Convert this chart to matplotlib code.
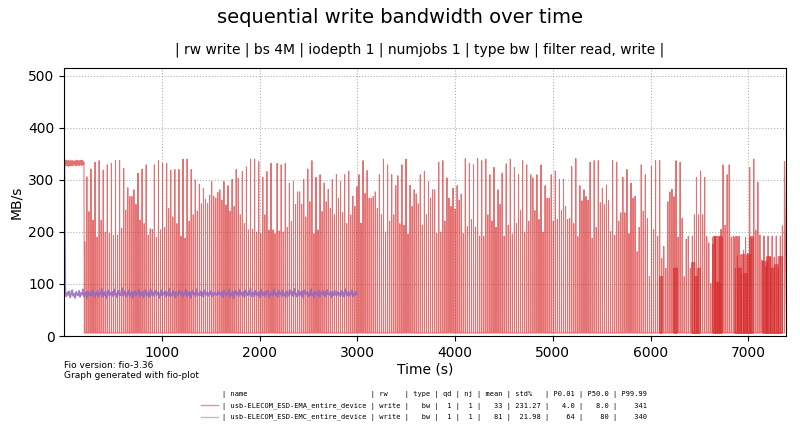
import numpy as np
import matplotlib
matplotlib.use("Agg")
import matplotlib.pyplot as plt
from matplotlib.lines import Line2D

# ---------------- data ----------------
TITLE = "sequential write bandwidth over time"
SUBTITLE = "| rw write | bs 4M | iodepth 1 | numjobs 1 | type bw | filter read, write |"

X_END = 7390          # seconds, end of run
RED_PLATEAU_END = 200 # red device writes steadily until here
RED_PLATEAU = [333, 328, 337, 330, 335, 327, 334, 338, 329, 332, 336, 328, 335, 330, 337, 326, 333, 338, 329, 334,
               331, 336, 327, 335, 330, 338, 328, 333, 336, 329, 334, 327, 337, 331, 335, 328, 333, 336, 330, 332,
               329, 335, 331, 337, 328, 334, 330, 336, 327, 333, 338, 329, 335, 331, 337, 328, 334, 330, 336, 332,
               328, 334, 337, 330, 335, 329, 333, 338, 331, 336, 327, 334, 330, 337, 329, 335, 332, 336, 330, 333]
RED_BASE = 6          # idle level between bursts

# burst peaks of the EMA device (MB/s), left to right
RED_PEAKS = [
    181, 306, 239, 321, 223, 334, 190, 337, 223, 319, 200, 329, 197, 332, 193, 337, 194, 337, 207, 322,
    242, 285, 268, 268, 281, 253, 313, 223, 321, 216, 329, 194, 206, 205, 329, 189, 337, 204, 332, 209,
    332, 245, 319, 229,
    320, 216, 320, 192, 340, 188, 340, 221, 320, 233, 300, 240, 292, 254, 284, 263, 255, 271, 297, 269,
    265, 276, 281, 261, 297, 252, 289, 240, 301, 249, 320, 303, 233, 316, 216, 325, 204, 340, 205, 340,
    200, 335, 197, 305, 233, 316, 204, 332, 204,
    197, 332, 202, 329, 200, 332, 209, 294, 220, 297, 253, 277, 277, 253, 301, 229, 321, 258, 337, 197,
    305, 204, 310, 239, 294, 258, 282, 245, 301, 233, 310, 265, 297, 237, 310, 216, 317, 233, 269, 249,
    287, 310, 217, 337, 274, 318, 265, 265,
    268, 277, 245, 310, 233, 340, 200, 329, 221, 310, 233, 289, 308, 216, 329, 213, 340, 196, 290, 249,
    281, 273, 254, 310, 213, 317, 233, 297, 265, 281, 281, 197, 334, 200, 337, 221, 304, 265, 249, 284,
    244, 289, 261, 273, 197, 341, 210, 332,
    224, 329, 209, 341, 192, 337, 192, 340, 233, 310, 221, 324, 209, 281, 253, 313, 192, 331, 213, 340,
    196, 324, 216, 310, 241, 337, 200, 329, 221, 310, 304, 241, 310, 224, 329, 200, 289, 265, 265, 310,
    221, 317, 224, 301, 241, 301, 249, 224,
    226, 326, 216, 341, 191, 289, 260, 281, 268, 261, 334, 188, 337, 209, 337, 256, 284, 253, 290, 260,
    201, 337, 194, 334, 221, 237, 305, 237, 320, 197, 294, 265, 269, 162, 209, 329, 240, 310, 226, 114,
    326, 205, 337, 192, 337, 149, 172, 130, 258,
    277, 282, 268, 337, 190, 334, 226, 114, 186, 192, 130, 192, 233, 305, 233, 317, 233, 305, 191, 179,
    101, 176, 192, 104, 192, 205, 329, 213, 310, 329, 190, 192, 130, 154, 192, 120, 165, 190, 159, 324,
    188, 340, 204, 296, 194, 146, 192, 134, 192, 151, 192, 151, 192, 130, 192, 212, 335,
]

# late periods where the EMA device toggles rapidly (dark blocks)
DENSE_START = [6097, 6240, 6425, 6640, 6865, 7151]
DENSE_END = [6118, 6271, 6507, 6732, 7049, 7346]
DENSE_LEVELS = [
    [114],
    [130],
    [141, 114, 130],
    [190, 190, 102, 190],
    [190, 130, 156, 120, 156, 190],
    [143, 152, 130, 136, 152],
]

# EMC device: steady ~80 MB/s until ~3000 s
PURPLE_END = 2996
PURPLE = [
    340, 80, 76, 84, 79, 86, 74, 82, 88, 77, 81, 73, 85, 80, 78, 87, 75, 83, 79, 90,
    76, 82, 84, 72, 86, 80, 78, 85, 77, 89, 81, 74, 83, 79, 87, 76, 82, 80, 91, 75,
    84, 78, 86, 73, 81, 88, 77, 83, 80, 85, 76, 90, 79, 82, 74, 87, 81, 78, 84, 92,
    77, 80, 86, 75, 83, 79, 88, 76, 82, 85, 73, 81, 87, 78, 84, 80, 89, 76, 83, 79,
    86, 74, 82, 88, 77, 81, 85, 75, 90, 80, 78, 84, 76, 87, 82, 79, 85, 73, 81, 88,
    77, 83, 80, 86, 75, 84, 79, 91, 76, 82, 78, 87, 80, 74, 85, 81, 77, 88, 83, 79,
    86, 75, 82, 80, 89, 76, 84, 78, 85, 73, 81, 87, 79, 83, 76, 90, 80, 82, 77, 86,
    78, 84, 75, 88, 81, 79, 85, 77, 83, 80, 87, 76, 82, 79, 84, 81, 78, 86, 80, 83,
    79, 85, 74, 88, 81, 77, 84, 80, 90, 75, 83, 78, 86, 72, 82, 87, 79, 84, 76, 89,
    80, 83, 77, 85, 74, 88, 81, 78, 86, 79, 92, 76, 82, 84, 75, 87, 80, 83, 77, 85,
    73, 89, 81, 78, 84, 76, 86, 80, 88, 74, 82, 79, 85, 77, 90, 81, 78, 83, 75, 87,
    80, 84, 76, 88, 79, 82, 74, 86, 81, 77, 89, 83, 78, 85, 76, 91, 80, 82, 75, 87,
    79, 84, 77, 86, 73, 88, 81, 80, 85, 76, 83, 78, 90, 79, 82, 74, 86, 80, 84, 77,
    88, 75, 83, 81, 87, 78, 85, 76, 89, 80, 82, 79, 86, 74, 84, 78, 88, 81, 77, 85,
    80, 83, 76, 87, 79, 84, 75, 90, 81, 78, 86, 77, 83, 80, 88, 76, 82, 79, 85, 81,
]

LEGEND_HEADER = "| name                             | rw    | type | qd | nj | mean | std%   | P0.01 | P50.0 | P99.99"
LEGEND_ROWS = [
    "| usb-ELECOM_ESD-EMA_entire_device | write |   bw |  1 |  1 |   33 | 231.27 |   4.0 |   8.0 |    341",
    "| usb-ELECOM_ESD-EMC_entire_device | write |   bw |  1 |  1 |   81 |  21.98 |    64 |    80 |    340",
]
COLORS = ["#d62728", "#9467bd"]

# ---------------- build series ----------------
# red: plateau, then a short burst per slot (base -> peak -> base)
t_plat = np.linspace(0, RED_PLATEAU_END, len(RED_PLATEAU))
slots = np.linspace(RED_PLATEAU_END + 8, X_END, len(RED_PEAKS) + 1)
dt = slots[1] - slots[0]
rx = list(t_plat) + [RED_PLATEAU_END + 4]
ry = list(RED_PLATEAU) + [RED_BASE]
for i, p in enumerate(RED_PEAKS):
    s = slots[i]
    rx += [s, s + 0.05 * dt, s + 0.10 * dt]
    ry += [RED_BASE, p, RED_BASE]
rx.append(X_END)
ry.append(RED_PEAKS[-1])

# dense toggling blocks
dense_segments = []
for a, b, levels in zip(DENSE_START, DENSE_END, DENSE_LEVELS):
    edges = np.linspace(a, b, len(levels) + 1)
    for k, lev in enumerate(levels):
        ts = np.arange(edges[k], edges[k + 1], 2.0)
        xs, ys = [], []
        for t in ts:
            xs += [t, t + 1.0]
            ys += [RED_BASE, lev]
        dense_segments.append((xs, ys))

px = np.linspace(0, PURPLE_END, len(PURPLE))

# ---------------- figure ----------------
fig = plt.figure(figsize=(8, 4.44), dpi=100)
ax = fig.add_axes([0.0805, 0.2432, 0.9025, 0.6036])

ax.plot(rx, ry, color=COLORS[0], lw=0.75, alpha=0.65)
for xs, ys in dense_segments:
    ax.plot(xs, ys, color=COLORS[0], lw=0.8, alpha=0.65)
ax.plot(px, PURPLE, color=COLORS[1], lw=1.2, alpha=0.85)

ax.set_xlim(0, X_END)
ax.set_ylim(0, 515)
ax.set_yticks(range(0, 501, 100))
ax.set_xticks(range(1000, 7001, 1000))
ax.tick_params(labelsize=10)
ax.grid(True, linestyle=":", color="#b0b0b0", linewidth=0.8)
ax.set_xlabel("Time (s)", fontsize=10, labelpad=2)
ax.set_ylabel("MB/s", fontsize=10)

fig.text(0.5, 0.96, TITLE, ha="center", va="center", fontsize=14)
fig.text(0.525, 0.887, SUBTITLE, ha="center", va="center", fontsize=10)
fig.text(0.08, 0.188, "Fio version: fio-3.36\nGraph generated with fio-plot",
         ha="left", va="top", fontsize=6.5, linespacing=1.25)

handles = [Line2D([], [], color="none")] + [
    Line2D([], [], color=c, lw=1, alpha=0.5) for c in COLORS]
labels = [LEGEND_HEADER] + LEGEND_ROWS
fig.legend(handles, labels, loc="center", bbox_to_anchor=(0.53, 0.085),
           frameon=False, prop={"family": "DejaVu Sans Mono", "size": 5.05},
           handlelength=2.5, handletextpad=0.6, labelspacing=0.65)

fig.savefig("out.png", dpi=100)
